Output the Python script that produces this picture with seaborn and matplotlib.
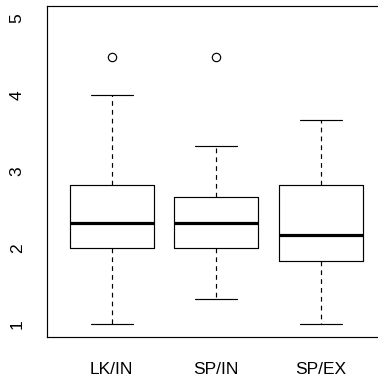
import numpy as np
import pandas as pd
import matplotlib
matplotlib.use("Agg")
import matplotlib.pyplot as plt
import seaborn as sns

# scores per condition
groups = ["LK/IN", "SP/IN", "SP/EX"]
lk_in = [1.0, 1.67, 2.0, 2.17, 2.33, 2.5, 2.83, 4.0, 4.5]
sp_in = [1.33, 1.67, 2.0, 2.33, 2.33, 2.33, 2.67, 3.33, 4.5]
sp_ex = [1.0, 1.5, 1.83, 2.0, 2.17, 2.5, 2.83, 3.33, 3.67]
y_ticks = [1, 2, 3, 4, 5]

df = pd.DataFrame({
    "group": np.repeat(groups, [len(lk_in), len(sp_in), len(sp_ex)]),
    "score": lk_in + sp_in + sp_ex,
})

sns.set_style("white")
plt.rcParams["font.family"] = ["Liberation Sans", "DejaVu Sans"]

fig = plt.figure(figsize=(3.78, 3.78), dpi=100)
ax = fig.add_axes([47 / 378, 41.3 / 378, 338.6 / 378, 330.4 / 378])

lw = 0.85
sns.boxplot(
    data=df, x="group", y="score", order=groups, ax=ax,
    fill=False, color="black", width=0.8, whis=1.5, linewidth=lw,
    medianprops=dict(color="black", linewidth=2.3),
    whiskerprops=dict(color="black", linewidth=lw, linestyle=(0, (4, 3.5))),
    capprops=dict(color="black", linewidth=lw),
    boxprops=dict(color="black", linewidth=lw),
    flierprops=dict(marker="o", markersize=6, markerfacecolor="none",
                    markeredgecolor="black", markeredgewidth=lw),
    capwidths=0.4,
)

ax.set_xlim(-0.62, 2.62)
ax.set_ylim(0.84, 5.16)
ax.set_yticks(y_ticks)
ax.set_yticklabels([str(t) for t in y_ticks], rotation=90, va="center")
ax.set_xlabel("")
ax.set_ylabel("")
for s in ax.spines.values():
    s.set_visible(True)
    s.set_color("black")
    s.set_linewidth(lw)
ax.tick_params(axis="both", which="both", direction="out", length=7.5,
               width=lw, color="black", labelsize=12.5, labelcolor="black")
ax.tick_params(axis="x", pad=10.5)
ax.tick_params(axis="y", pad=8.5)

fig.savefig("out.png", dpi=100)
